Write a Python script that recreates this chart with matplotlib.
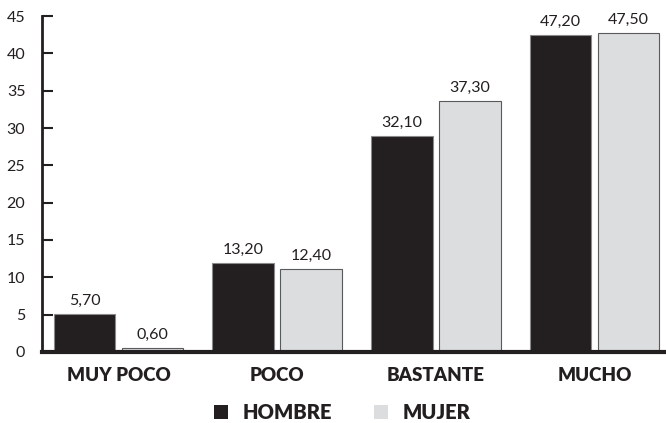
import matplotlib
matplotlib.use("Agg")
from matplotlib import pyplot as plt
from matplotlib.patches import Patch
import numpy as np

plt.rcParams['font.family'] = ['Lato', 'DejaVu Sans']

categorias = ['MUY POCO', 'POCO', 'BASTANTE', 'MUCHO']
hombre = [5.70, 13.20, 32.10, 47.20]
mujer = [0.60, 12.40, 37.30, 47.50]
etiquetas_y = ['0', '5', '10', '15', '20', '25', '30', '35', '40', '45']

NEGRO = '#231f20'
GRIS = '#dcdddf'

fig = plt.figure(figsize=(6.66, 4.23), dpi=100)
ax = fig.add_axes([0.063, 0.168, 0.937, 0.794])

x = np.arange(len(categorias))
ancho = 0.388
desp = 0.214

b1 = ax.bar(x - desp, hombre, ancho, color=NEGRO, edgecolor='#8a8a8c', linewidth=0.8)
b2 = ax.bar(x + desp, mujer, ancho, color=GRIS, edgecolor='#5a5a5c', linewidth=0.8)

def fmt(v):
    return f"{v:.2f}".replace('.', ',')

for barras, vals in ((b1, hombre), (b2, mujer)):
    for b, v in zip(barras, vals):
        ax.annotate(fmt(v), (b.get_x() + b.get_width() / 2, b.get_height()),
                    xytext=(0, 4.5), textcoords='offset points',
                    ha='center', va='bottom', fontsize=11.5, color=NEGRO)

# escala del eje: 10 marcas repartidas en 0-50, rotuladas 0-45
ax.set_ylim(0, 50)
ax.set_yticks(np.arange(len(etiquetas_y)) * 50 / 9)
ax.set_yticklabels(etiquetas_y, fontsize=11.5, color=NEGRO)
ax.tick_params(axis='y', direction='in', length=8, width=1.5, color=NEGRO, pad=12)

ax.set_xlim(-0.482, 3.45)
ax.set_xticks(x)
ax.set_xticklabels(categorias, fontsize=13.5, fontweight='heavy', color=NEGRO)
ax.tick_params(axis='x', length=0, pad=11)

for lado in ('top', 'right'):
    ax.spines[lado].set_visible(False)
ax.spines['left'].set_linewidth(2)
ax.spines['left'].set_color(NEGRO)
ax.spines['bottom'].set_linewidth(3)
ax.spines['bottom'].set_color(NEGRO)

handles = [Patch(facecolor=NEGRO, edgecolor='none', label='HOMBRE'),
           Patch(facecolor=GRIS, edgecolor='none', label='MUJER')]
leg = fig.legend(handles=handles, loc='center', bbox_to_anchor=(0.514, 0.024),
                 ncol=2, frameon=False, handlelength=0.7, handleheight=0.7,
                 handletextpad=0.7, columnspacing=2.1,
                 prop={'size': 14.5, 'weight': 'heavy'})
for t in leg.get_texts():
    t.set_color(NEGRO)

plt.savefig('out.png', dpi=100)
